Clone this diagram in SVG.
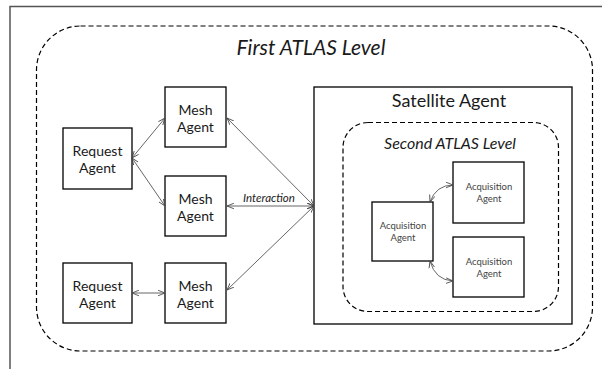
<svg xmlns="http://www.w3.org/2000/svg" width="602" height="369" viewBox="0 0 602 369">
<style>
.box{fill:#fff;stroke:#000;stroke-width:1.3}
.dash{fill:none;stroke:#000;stroke-width:1.2;stroke-dasharray:5 3}
.t{font-family:Lato,"Liberation Sans",sans-serif;font-weight:400;fill:#1a1a1a;text-anchor:middle}
.n{font-size:14px}
.s{font-size:9.5px;fill:#444}
.it{font-style:italic}
.c{fill:none;stroke:#555;stroke-width:0.9}
</style>
<defs>
<marker id="a" viewBox="0 0 10 10" refX="10" refY="5" markerWidth="7" markerHeight="7" markerUnits="userSpaceOnUse" orient="auto-start-reverse">
<path d="M0,1 L10,5 L0,9" fill="none" stroke="#444" stroke-width="1.2"/>
</marker>
</defs>
<rect width="602" height="369" fill="#fff"/>
<path d="M10,369 V6.5 H602" fill="none" stroke="#555" stroke-width="1.5"/>
<g id="first-level">
<rect class="dash" x="36.5" y="26" width="556" height="325" rx="44"/>
<text class="t it" x="311" y="55" font-size="21">First ATLAS Level</text>
</g>
<g id="request1"><rect class="box" x="63" y="128" width="69" height="61"/><text class="t n" x="97.5" y="156">Request</text><text class="t n" x="97.5" y="173">Agent</text></g>
<g id="request2"><rect class="box" x="63" y="263" width="69" height="60"/><text class="t n" x="97.5" y="291">Request</text><text class="t n" x="97.5" y="308">Agent</text></g>
<g id="mesh1"><rect class="box" x="165" y="87" width="61" height="60"/><text class="t n" x="195.5" y="115">Mesh</text><text class="t n" x="195.5" y="132">Agent</text></g>
<g id="mesh2"><rect class="box" x="165" y="176" width="61" height="60"/><text class="t n" x="195.5" y="204">Mesh</text><text class="t n" x="195.5" y="221">Agent</text></g>
<g id="mesh3"><rect class="box" x="165" y="263" width="61" height="60"/><text class="t n" x="195.5" y="291">Mesh</text><text class="t n" x="195.5" y="308">Agent</text></g>
<g id="satellite">
<rect class="box" x="314" y="87" width="258" height="237"/>
<text class="t" x="449" y="107" font-size="18">Satellite Agent</text>
</g>
<g id="second-level">
<rect class="dash" x="343" y="122.5" width="215.5" height="189" rx="25"/>
<text class="t it" x="450" y="149" font-size="16">Second ATLAS Level</text>
</g>
<g id="acq1"><rect class="box" x="372" y="202" width="61" height="59"/><text class="t s" x="403" y="229">Acquisition</text><text class="t s" x="403" y="240.5">Agent</text></g>
<g id="acq2"><rect class="box" x="453" y="162" width="71" height="61"/><text class="t s" x="489" y="190">Acquisition</text><text class="t s" x="489" y="201.5">Agent</text></g>
<g id="acq3"><rect class="box" x="453" y="237" width="71" height="60"/><text class="t s" x="489" y="265">Acquisition</text><text class="t s" x="489" y="276.5">Agent</text></g>
<g id="connectors">
<path class="c" d="M132,158 L165,118" marker-start="url(#a)" marker-end="url(#a)"/>
<path class="c" d="M132,158 L165,206" marker-start="url(#a)" marker-end="url(#a)"/>
<path class="c" d="M132,293 L165,293" marker-start="url(#a)" marker-end="url(#a)"/>
<path class="c" d="M227,118 L314,206" marker-start="url(#a)" marker-end="url(#a)"/>
<path class="c" d="M227,206 L314,206" stroke-width="1.6" marker-start="url(#a)" marker-end="url(#a)"/>
<path class="c" d="M227,290 L314,206" marker-start="url(#a)" marker-end="url(#a)"/>
<path class="c" d="M430,202 Q436,185 453,185" marker-start="url(#a)" marker-end="url(#a)"/>
<path class="c" d="M430,261 Q435,280 453,281" marker-start="url(#a)" marker-end="url(#a)"/>
<text class="t it" x="269" y="202" font-size="11.5">Interaction</text>
</g>
</svg>
